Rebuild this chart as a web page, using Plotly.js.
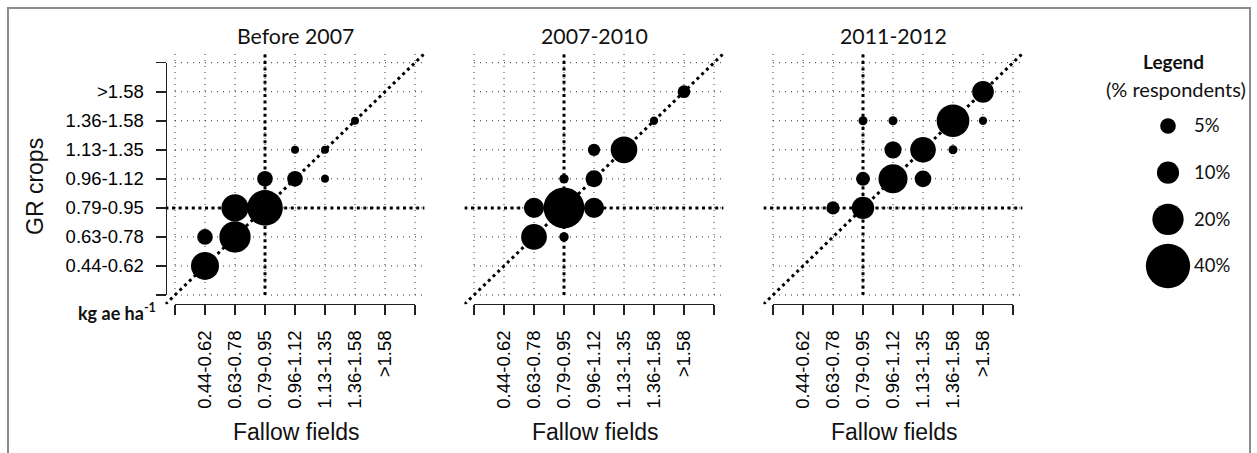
<!DOCTYPE html>
<html><head><meta charset="utf-8">
<script src="https://cdn.plot.ly/plotly-3.0.1.min.js"></script>
<style>html,body{margin:0;padding:0;background:#fff;} #chart{width:1257px;height:453px;}</style>
</head><body><div id="chart"></div>
<script>
// ---- data ----
const doseLabels = ['0.44-0.62','0.63-0.78','0.79-0.95','0.96-1.12','1.13-1.35','1.36-1.58','>1.58'];
const panelTitles = ['Before 2007','2007-2010','2011-2012'];
const refDose = '0.79-0.95';

const before2007Fallow = ['0.44-0.62','0.44-0.62','0.63-0.78','0.63-0.78','0.79-0.95','0.79-0.95','0.96-1.12','0.96-1.12','1.13-1.35','1.13-1.35','1.36-1.58'];
const before2007Crops  = ['0.44-0.62','0.63-0.78','0.63-0.78','0.79-0.95','0.79-0.95','0.96-1.12','0.96-1.12','1.13-1.35','1.13-1.35','0.96-1.12','1.36-1.58'];
const before2007Pct    = [16, 5, 20, 15, 26, 5, 5, 1.3, 1.3, 1.3, 1.3];

const y2007Fallow = ['0.63-0.78','0.63-0.78','0.79-0.95','0.79-0.95','0.79-0.95','0.96-1.12','0.96-1.12','0.96-1.12','1.13-1.35','1.36-1.58','>1.58'];
const y2007Crops  = ['0.63-0.78','0.79-0.95','0.79-0.95','0.63-0.78','0.96-1.12','0.79-0.95','0.96-1.12','1.13-1.35','1.13-1.35','1.36-1.58','>1.58'];
const y2007Pct    = [13.5, 8.2, 34, 1.8, 1.8, 8.2, 5.9, 3.1, 14.5, 1.4, 3.3];

const y2011Fallow = ['0.63-0.78','0.79-0.95','0.79-0.95','0.79-0.95','0.96-1.12','0.96-1.12','0.96-1.12','1.13-1.35','1.13-1.35','1.36-1.58','1.36-1.58','>1.58','>1.58'];
const y2011Crops  = ['0.79-0.95','0.79-0.95','0.96-1.12','1.36-1.58','1.36-1.58','0.96-1.12','1.13-1.35','1.13-1.35','0.96-1.12','1.36-1.58','1.13-1.35','>1.58','1.36-1.58'];
const y2011Pct    = [3.6, 10.2, 4, 1.65, 1.65, 17.2, 6.1, 13.4, 5.7, 21.8, 1.65, 9.6, 1.4];

const legendVals = [5, 10, 20, 40];

// ---- geometry ----
const W = 1257, H = 453;
const px = v => v / W, py = v => 1 - v / H;
const PAD = 0.32, NMAX = doseLabels.length + 1;
const XUNIT = 30, YUNIT = 29.04, Y0 = 295;
const panelX0 = [175, 474, 773];
const SIZEREF = 2 / 49;
const idx = c => doseLabels.indexOf(c) + 1;

const panels = [
  {fx: before2007Fallow, cy: before2007Crops, p: before2007Pct},
  {fx: y2007Fallow, cy: y2007Crops, p: y2007Pct},
  {fx: y2011Fallow, cy: y2011Crops, p: y2011Pct}
];

const arial = 'Liberation Sans, Arial, sans-serif';
const tickFont = {family: arial, size: 18.5, color: '#000'};
const calFont = 'Lato, Carlito, Calibri, sans-serif';
const tickvals = doseLabels.map((d, i) => i + 1);
const axisStyle = {
  tickvals: tickvals, ticktext: doseLabels, ticks: 'outside', ticklen: 10, tickwidth: 1.6, tickcolor: '#222',
  minor: {tickmode: 'linear', tick0: 0, dtick: 1, ticks: 'outside', ticklen: 10, tickwidth: 1.6, tickcolor: '#222'},
  showline: true, linewidth: 1.6, linecolor: '#222', showgrid: false, zeroline: false,
  tickfont: tickFont, ticklabelstandoff: 8, fixedrange: true
};

const traces = [];
const layout = {
  width: W, height: H, margin: {l: 0, r: 0, t: 0, b: 0},
  paper_bgcolor: '#fff', plot_bgcolor: 'rgba(0,0,0,0)', showlegend: false,
  shapes: [], annotations: [],
  yaxis: {domain: [py(Y0 + PAD * YUNIT), py(Y0 - (NMAX + PAD) * YUNIT)], range: [-PAD, NMAX + PAD],
          visible: false, fixedrange: true},
  yaxis4: Object.assign({domain: [py(Y0), py(Y0 - NMAX * YUNIT)], range: [0, NMAX], anchor: 'free', position: px(165.5)}, axisStyle)
};

const gridLine = {color: '#333', width: 1, dash: '1px,5px'};
const refLine = {color: '#000', width: 3, dash: '3px,3.6px'};
const refIdx = idx(refDose);

panels.forEach((pan, i) => {
  const x0 = panelX0[i];
  const xn = i ? String(i + 1) : '';
  layout['xaxis' + xn] = {domain: [px(x0 - PAD * XUNIT), px(x0 + (NMAX + PAD) * XUNIT)], range: [-PAD, NMAX + PAD],
                          visible: false, anchor: 'y', fixedrange: true};
  layout['xaxis' + (4 + i)] = Object.assign({domain: [px(x0), px(x0 + NMAX * XUNIT)], range: [0, NMAX], anchor: 'free',
                                             position: py(303.5), tickangle: -90}, axisStyle);
  const xr = 'x' + xn;
  // grid
  for (let k = 0; k <= NMAX; k++) {
    layout.shapes.push({type: 'line', xref: xr, yref: 'y', x0: k, x1: k, y0: 0, y1: NMAX + PAD, line: gridLine, layer: 'below'});
    layout.shapes.push({type: 'line', xref: xr, yref: 'y', x0: 0, x1: NMAX + PAD, y0: k, y1: k, line: gridLine, layer: 'below'});
  }
  // reference lines
  layout.shapes.push({type: 'line', xref: xr, yref: 'y', x0: refIdx, x1: refIdx, y0: 0, y1: NMAX + PAD, line: refLine, layer: 'below'});
  layout.shapes.push({type: 'line', xref: xr, yref: 'y', x0: -PAD, x1: NMAX + PAD, y0: refIdx, y1: refIdx, line: refLine, layer: 'below'});
  layout.shapes.push({type: 'line', xref: xr, yref: 'y', x0: -PAD, x1: NMAX + PAD, y0: -PAD, y1: NMAX + PAD, line: refLine, layer: 'below'});

  traces.push({
    type: 'scatter', mode: 'markers', xaxis: xr, yaxis: 'y',
    x: pan.fx.map(idx), y: pan.cy.map(idx),
    marker: {size: pan.p, sizemode: 'area', sizeref: SIZEREF, color: '#000', opacity: 1, line: {width: 0}},
    hoverinfo: 'skip', cliponaxis: false
  });
  traces.push({type: 'scatter', mode: 'markers', xaxis: 'x' + (4 + i), yaxis: 'y4', x: [0], y: [0],
               marker: {opacity: 0}, hoverinfo: 'skip'});

  layout.annotations.push({text: panelTitles[i], xref: 'paper', yref: 'paper', x: px(x0 + NMAX * XUNIT / 2), y: py(36),
                           showarrow: false, xanchor: 'center', yanchor: 'middle', font: {family: calFont, size: 21.3, color: '#111'}});
  layout.annotations.push({text: 'Fallow fields', xref: 'paper', yref: 'paper', x: px(x0 + NMAX * XUNIT / 2 + 1), y: py(432),
                           showarrow: false, xanchor: 'center', yanchor: 'middle',
                           font: {family: arial, size: 23, color: '#111'}});
});

layout.annotations.push({text: 'GR crops', xref: 'paper', yref: 'paper', x: px(35), y: py(187), textangle: -90,
                         showarrow: false, xanchor: 'center', yanchor: 'middle',
                         font: {family: arial, size: 23, color: '#111'}});
layout.annotations.push({text: '<b>kg ae ha<sup>-1</sup></b>', xref: 'paper', yref: 'paper', x: px(158), y: py(312),
                         showarrow: false, xanchor: 'right', yanchor: 'middle', font: {family: calFont, size: 18, color: '#111'}});

// legend
const L_TOP = 126, L_STEP = 46.67, L_PADTOP = 16, L_PADBOT = 16;
const nL = legendVals.length;
layout.xaxis7 = {domain: [px(1150), px(1186)], range: [-1, 1], visible: false, anchor: 'y7', fixedrange: true};
layout.yaxis7 = {domain: [py(L_TOP + (nL - 1) * L_STEP + L_PADBOT), py(L_TOP - L_PADTOP)],
                 range: [nL - 1 + L_PADBOT / L_STEP, -L_PADTOP / L_STEP], anchor: 'free', position: px(1193), side: 'right',
                 tickvals: legendVals.map((v, i) => i), ticktext: legendVals.map(v => v + '%'),
                 ticks: '', showline: false, showgrid: false, zeroline: false,
                 tickfont: {family: calFont, size: 18.5, color: '#111'}, fixedrange: true};
traces.push({type: 'scatter', mode: 'markers', xaxis: 'x7', yaxis: 'y7',
             x: legendVals.map(() => 0), y: legendVals.map((v, i) => i),
             marker: {size: legendVals, sizemode: 'area', sizeref: SIZEREF, color: '#000', opacity: 1, line: {width: 0}},
             hoverinfo: 'skip', cliponaxis: false});
layout.annotations.push({text: '<b>Legend</b>', xref: 'paper', yref: 'paper', x: px(1173), y: py(61),
                         showarrow: false, xanchor: 'center', yanchor: 'middle', font: {family: calFont, size: 19, color: '#111'}});
layout.annotations.push({text: '(% respondents)', xref: 'paper', yref: 'paper', x: px(1176), y: py(89),
                         showarrow: false, xanchor: 'center', yanchor: 'middle', font: {family: calFont, size: 20, color: '#111'}});

// frame
layout.shapes.push({type: 'rect', xref: 'paper', yref: 'paper', x0: px(8), x1: px(1250), y0: py(8), y1: py(480),
                    line: {color: '#8c8c8c', width: 2}, fillcolor: 'rgba(0,0,0,0)'});

Plotly.newPlot('chart', traces, layout, {staticPlot: true, displayModeBar: false});
</script>
</body></html>
